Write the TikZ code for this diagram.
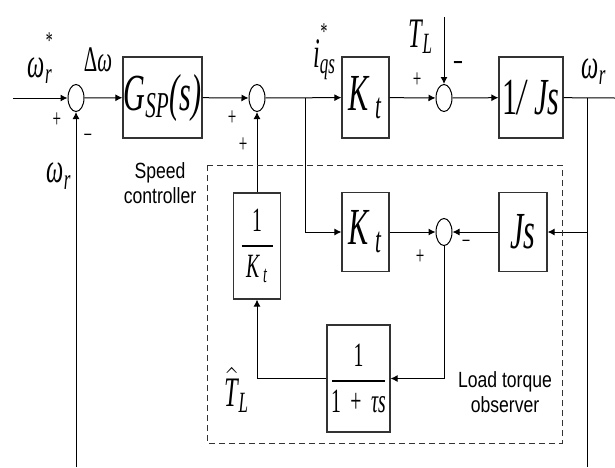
\RequirePackage{fix-cm}
\documentclass[tikz,border=0pt]{standalone}
\usepackage{amsmath}
\usepackage{fontspec}
\newfontfamily\narrowsf[FakeStretch=0.8]{Liberation Sans}
\newfontfamily\tms[FakeStretch=0.58, ItalicFont={Liberation Serif Italic}, BoldFont={Liberation Serif Bold}]{Liberation Serif}
\newcommand{\tv}[1]{{\tms\itshape #1}}
\newcommand{\tstar}[3]{\tv{#1\rlap{\textsubscript{#2}}\raisebox{#3}{\large *}}}
\newcommand{\obsfrac}[2]{\genfrac{}{}{1pt}{0}{\mbox{#1}}{\mbox{#2}}}
\usepackage{tikz}
\usetikzlibrary{shapes, arrows.meta, positioning, calc}

\begin{document}
\begin{tikzpicture}[x=0.5pt,y=-0.5pt,line width=0.5pt,
  blk/.style={draw=black!80, line width=0.6pt, inner sep=0pt, font=\fontsize{26}{28}\selectfont},
  obs/.style={blk, font=\fontsize{17}{19}\selectfont},
  sumpt/.style={draw, ellipse, minimum width=8pt, minimum height=13.5pt, inner sep=0pt},
  arr/.style={-{Latex[length=3.5pt,width=3.5pt]}},
  lbl/.style={inner sep=0pt, font=\fontsize{21}{24}\selectfont},
  sgn/.style={inner sep=0pt, font=\tms\fontsize{13}{13}\selectfont},
  txt/.style={inner sep=0pt, align=center, font=\narrowsf\fontsize{11}{12.5}\selectfont}]
  \useasboundingbox (0,0) rectangle (615,467);

  % Forward path
  \node[sumpt] (s1) at (76,98) {};
  \node[blk, minimum width=39.5pt, minimum height=40.5pt] (gsp) at (162.5,97.5) {\tv{G\textsubscript{SP}(s)}};
  \node[sumpt] (s2) at (257,98) {};
  \node[blk, minimum width=23.5pt, minimum height=40.5pt] (kt1) at (365.5,97.5) {\tv{K\textsubscript{\,t}}};
  \node[sumpt] (s3) at (444,98) {};
  \node[blk, minimum width=32pt, minimum height=40.5pt] (js1) at (531,97.5) {\tv{{\upshape 1}/\,Js}};

  % Observer blocks
  \node[obs, minimum width=23.5pt, minimum height=53pt] (invkt) at (257,246)
    {$\obsfrac{\tms 1}{\makebox[15.5pt]{\tv{K\textsubscript{\,t}}}}$};
  \node[blk, minimum width=23.5pt, minimum height=39.5pt] (kt2) at (365.5,232) {\tv{K\textsubscript{\,t}}};
  \node[sumpt] (s4) at (444,232) {};
  \node[blk, minimum width=24pt, minimum height=39.5pt] (js2) at (523,232) {\tv{Js}};
  \node[obs, minimum width=31.5pt, minimum height=53.5pt] (lpf) at (358.5,378.5)
    {$\obsfrac{\tms 1}{\makebox[26.5pt]{\tms 1\;+\;\itshape τs}}$};

  % Free ends and branch points
  \coordinate (in) at (13,98);
  \coordinate (out) at (615,98);
  \coordinate (tl) at (444,17);
  \coordinate (b1) at (305,98);
  \coordinate (b2) at (587,98);
  \coordinate (fb1) at (76,467);
  \coordinate (fb2) at (587,467);

  % Connections
  \draw[arr] (in) -- (s1);
  \draw[arr] (s1) -- (gsp);
  \draw[arr] (gsp) -- (s2);
  \draw[arr] (s2) -- (kt1);
  \draw[arr] (kt1) -- (s3);
  \draw[arr] (tl) -- (s3);
  \draw[arr] (s3) -- (js1);
  \draw (js1) -- (out);
  \draw (b2) -- (fb2);
  \draw[arr] (fb1) -- (s1);
  \draw[arr] (b1) |- (kt2.west);
  \draw[arr] (kt2) -- (s4);
  \draw[arr] (b2 |- js2) -- (js2.east);
  \draw[arr] (js2) -- (s4);
  \draw[arr] (s4.south) |- (lpf.east);
  \draw[arr] (lpf.west) -| (invkt.south);
  \draw[arr] (invkt) -- (s2);

  % Observer frame
  \draw[black!80, dash pattern=on 3pt off 2pt] (207,165) rectangle (562,443);

  % Signal labels
  \node[lbl] (wref) at (40,58) {\tstar{ω}{r}{0.7em}};
  \node[lbl, font=\fontsize{18}{20}\selectfont] (dw) at (98,60) {\tv{{\upshape Δ}ω}};
  \node[lbl] (wfb) at (59,176) {\tv{ω\textsubscript{r}}};
  \node[lbl] (iqs) at (320,52) {\tstar{i}{qs}{0.65em}};
  \node[lbl] (tlbl) at (421,37) {\tv{T\textsubscript{L}}};
  \node[lbl] (wout) at (594,72) {\tv{ω\textsubscript{r}}};
  \node[lbl] (tlhat) at (237,390) {$\hat{\mbox{\tv{T}}}$\tv{\textsubscript{L}}};

  % Signs
  \node[sgn] (p1) at (57,120) {+};
  \node[sgn] (m1) at (88,139) {−};
  \node[sgn] (p2) at (232,118) {+};
  \node[sgn] (p3) at (243,145) {+};
  \node[sgn] (p4) at (417,80) {+};
  \node[sgn, font=\tms\bfseries\fontsize{15}{15}\selectfont] (m3) at (458,67) {−};
  \node[sgn] (p5) at (420,257) {+};
  \node[sgn] (m4) at (466,245) {−};

  % Captions
  \node[txt] (spd) at (160,183) {Speed\\controller};
  \node[txt] (ltq) at (505,392) {Load torque\\observer};
\end{tikzpicture}
\end{document}
